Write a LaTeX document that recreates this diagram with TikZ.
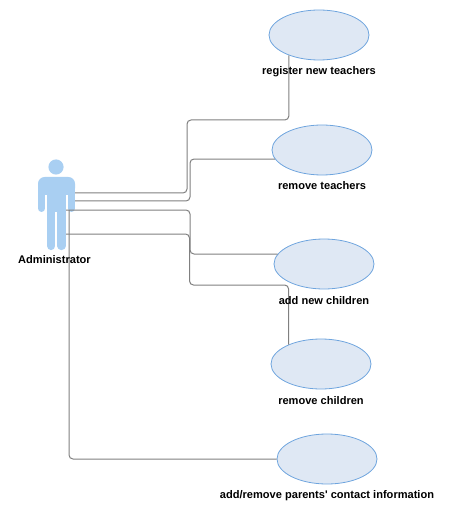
\documentclass[tikz,border=0pt]{standalone}
\usepackage{fontspec}
\setmainfont{Liberation Sans}
\usepackage{xcolor}
\usetikzlibrary{positioning,shapes.geometric}
\definecolor{ucfill}{HTML}{DFE8F4}
\definecolor{ucline}{HTML}{6FA5DE}
\definecolor{actorblue}{HTML}{A9CFF2}
\definecolor{connline}{HTML}{808080}
\tikzset{
  usecase/.style={ellipse,draw=ucline,fill=ucfill,line width=0.6pt,minimum width=75pt,minimum height=37.5pt,inner sep=0pt},
  uclabel/.style={font=\fontsize{8.3}{10}\selectfont\bfseries,inner sep=0pt,text=black},
  conn/.style={draw=connline,line width=0.75pt,rounded corners=3pt},
  limb/.style={draw=actorblue,line cap=round}
}

\begin{document}
\begin{tikzpicture}[x=0.75pt,y=-0.75pt]
  \useasboundingbox (0,0) rectangle (454,513);
  % actor
  \fill[actorblue] (56,167) circle (7.6);
  \fill[actorblue,rounded corners=5pt] (38,195) -- (38,177) -- (75,177) -- (75,195) -- cycle;
  \fill[actorblue] (47,185) rectangle (66,212);
  \draw[limb,line width=5.2pt] (41.5,190) -- (41.5,208.5);
  \draw[limb,line width=5.2pt] (71.5,190) -- (71.5,208.5);
  \draw[limb,line width=6.2pt] (51.2,205) -- (51.2,246);
  \draw[limb,line width=6.2pt] (61.4,205) -- (61.4,246);
  \coordinate (actorA) at (75,193);
  \coordinate (actorB) at (75,201);
  \coordinate (actorC) at (66,210);
  \coordinate (actorD) at (66,234);
  \coordinate (actorE) at (69,210);
  % use cases
  \node[usecase] (regteach) at (319,35) {};
  \node[usecase] (rmteach) at (322,150) {};
  \node[usecase] (addchild) at (324,264) {};
  \node[usecase] (rmchild) at (321,364) {};
  \node[usecase] (contact) at (327,459) {};
  % connectors
  \draw[conn] (actorA) -| (187,120) -| (regteach.214);
  \draw[conn] (actorB) -| (190,159) -- (rmteach.191);
  \draw[conn] (actorC) -| (190,254) -- (addchild.168);
  \draw[conn] (actorD) -| (189.5,285) -| (rmchild.149);
  \draw[conn] (actorE) |- (contact.west);
  % labels
  \node[uclabel] (actorlabel) at (54.5,260) {Administrator};
  \node[uclabel,below=4.5pt of regteach] (regteachlabel) {register new teachers};
  \node[uclabel,below=4.5pt of rmteach] (rmteachlabel) {remove teachers};
  \node[uclabel,below=5pt of addchild] (addchildlabel) {add new children};
  \node[uclabel,below=5pt of rmchild] (rmchildlabel) {remove children};
  \node[uclabel,below=4.5pt of contact] (contactlabel) {add/remove parents\textquotesingle{} contact information};
\end{tikzpicture}
\end{document}
